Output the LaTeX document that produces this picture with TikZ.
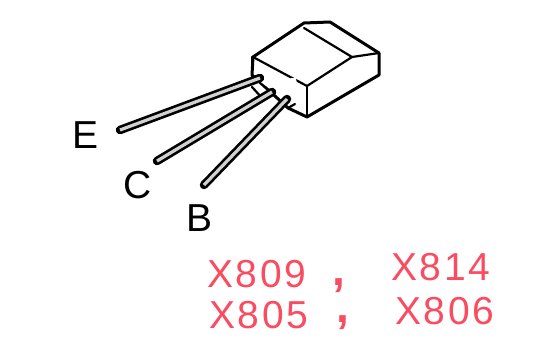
\documentclass[tikz,border=0pt]{standalone}
\usepackage{fontspec}
\setmainfont{Liberation Sans}
\newfontfamily\partfont[LetterSpace=7]{Liberation Sans}
\usepackage{tikz}
\definecolor{partred}{rgb}{0.98, 0.30, 0.38}
\definecolor{leadgray}{rgb}{0.82, 0.82, 0.82}
\tikzset{
	outline/.style={line width=3pt, line cap=round, line join=round},
	inner line/.style={line width=2.2pt, line cap=round, line join=round},
	pinlabel/.style={font=\fontsize{39}{39}\selectfont, inner sep=0pt},
	partlabel/.style={font=\partfont\fontsize{39}{39}\selectfont, text=partred, anchor=base west, inner sep=0pt},
	commalabel/.style={font=\bfseries\fontsize{46}{46}\selectfont, text=partred, anchor=base west, inner sep=0pt},
}

\begin{document}
\begin{tikzpicture}[x=1pt, y=-1pt]
		\useasboundingbox (0,0) rectangle (545,363);
		% body of the transistor
		\draw [outline, fill=white] (253,57)--(304,23)--(330,22)--(379,53)--(379,75)--(307,117)--(288,108)--(252,75)--cycle;
		\draw [inner line] (253,57)--(307,86)--(352,57)--(304,28);
		\draw [inner line] (352,57)--(379,53);
		\draw [inner line] (307,86)--(307,117);
		\fill [white] (258,80)--(296,78)--(300,105)--(290,104)--cycle;
		\draw [inner line] (252,57)--(252,78);
		\draw [inner line] (252,87)--(262,98);
		\draw [inner line] (288,108)--(295,104);
		% leads
		\foreach \tipx/\tipy/\endx/\endy in {120/130/260/78, 157/161/272/92, 204/185/287/99}{
			\draw [line width=8.5pt, line cap=round] (\tipx,\tipy)--(\endx,\endy);
			\draw [leadgray, line width=3.2pt] (\tipx,\tipy)--(\endx,\endy);
		}
		\node [pinlabel] (labelE) at (86,135) {E};
		\node [pinlabel] (labelC) at (138,185) {C};
		\node [pinlabel] (labelB) at (200,218) {B};
		\node [partlabel] (partA) at (207,287) {X809};
		\node [partlabel] (partB) at (391,280) {X814};
		\node [partlabel] (partC) at (209,328) {X805};
		\node [partlabel] (partD) at (395,324) {X806};
		\node [commalabel] (commaA) at (332,285) {,};
		\node [commalabel] (commaB) at (336,322) {,};
	\end{tikzpicture}
\end{document}
